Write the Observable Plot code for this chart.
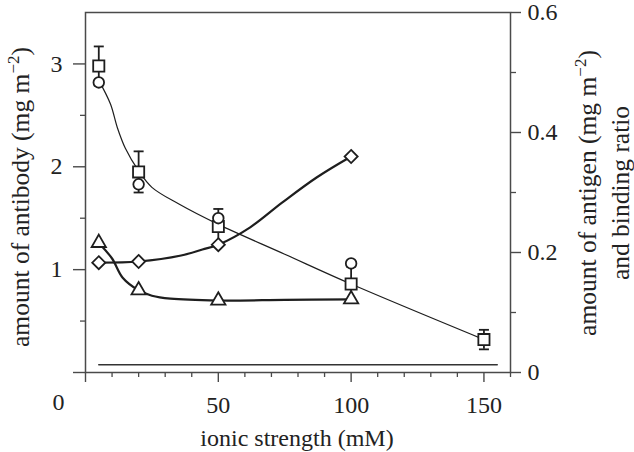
<!DOCTYPE html>
<html><head><meta charset="utf-8">
<script src="https://cdn.jsdelivr.net/npm/d3@7"></script>
<script src="https://cdn.jsdelivr.net/npm/@observablehq/plot@0.6"></script>
<style>
html,body{margin:0;padding:0;background:#fff;}
#chart svg{display:block;}
</style>
</head><body><div id="chart"></div>
<script>
// ---- data ----
const squareX = [5, 20, 50, 100, 150];
const squareY = [2.98, 1.95, 1.42, 0.86, 0.32];          // antibody, left axis
const squareErr = [0.19, 0.20, 0.17, 0.17, 0.095];
const circleX = [5, 20, 50, 100];
const circleY = [2.82, 1.83, 1.50, 1.06];                // antibody, left axis
const triangleX = [5, 20, 50, 100];
const triangleY = [0.216, 0.137, 0.120, 0.122];          // right axis
const diamondX = [5, 20, 50, 100];
const diamondY = [0.183, 0.185, 0.213, 0.360];           // right axis
const fitAbX = [5, 9.4, 12, 15, 20, 25, 35, 50, 75, 100, 150];
const fitAbY = [2.84, 2.61, 2.38, 2.18, 1.96, 1.80, 1.64, 1.44, 1.15, 0.86, 0.32];
const fitTriX = [5, 10, 14, 20, 25, 32, 50, 75, 100];
const fitTriY = [0.216, 0.19, 0.158, 0.137, 0.128, 0.123, 0.120, 0.121, 0.122];
const fitDiaX = [5, 20, 36, 44, 50, 62, 74, 87, 100];
const fitDiaY = [0.183, 0.185, 0.195, 0.205, 0.213, 0.242, 0.283, 0.325, 0.360];
const baseX = [5, 155];
const baseY = [0.013, 0.013];                            // right axis
const xMajor = [0, 50, 100, 150];
const xMinor = [10, 20, 30, 40, 60, 70, 80, 90, 110, 120, 130, 140, 160];
const yLeftMajor = [0, 1, 2, 3];
const yLeftMinor = [0.5, 1.5, 2.5];
const yRightMajor = [0, 0.2, 0.4, 0.6];
const yRightMinor = [0.1, 0.3, 0.5];

const LEFT_MAX = 3.5, RIGHT_MAX = 0.6;
const K = LEFT_MAX / RIGHT_MAX;
const pts = (xs, ys, f = 1) => xs.map((x, i) => ({x, y: ys[i] * f}));
const fmtRight = v => v === 0 ? "0" : v.toFixed(1);

const sq = squareX.map((x, i) => ({x, y: squareY[i], e: squareErr[i]}));
const caps = sq.flatMap(d => [{x: d.x, y: d.y + d.e}, {x: d.x, y: d.y - d.e}]);
const hline = {draw(ctx, size) { const w = Math.sqrt(size / Math.PI); ctx.moveTo(-w, 0); ctx.lineTo(w, 0); }};
const ink = "#1e1e1e";
const axisInk = "#4a4a4a";

const svg = Plot.plot({
  width: 634, height: 452,
  marginLeft: 85, marginRight: 124, marginTop: 12, marginBottom: 80,
  style: {fontFamily: "'Liberation Serif', 'Times New Roman', serif", fontSize: "24px", color: "#222", background: "#fff"},
  x: {domain: [0, 160]},
  y: {domain: [0, LEFT_MAX]},
  marks: [
    Plot.frame({stroke: axisInk, strokeWidth: 1.5}),
    Plot.axisX({ticks: xMajor, tickSize: 10, tickPadding: 13, strokeWidth: 1.4, stroke: axisInk, tickFormat: d => d === 0 ? "" : String(d), label: null}),
    Plot.axisX({ticks: xMinor, tickSize: 5, strokeWidth: 1.3, stroke: axisInk, tickFormat: () => "", label: null}),
    Plot.axisY({ticks: yLeftMajor, tickSize: 12, tickPadding: 11, strokeWidth: 1.4, stroke: axisInk, tickFormat: d => d === 0 ? "" : String(d), label: null}),
    Plot.axisY({ticks: yLeftMinor, tickSize: 5, strokeWidth: 1.3, stroke: axisInk, tickFormat: () => "", label: null}),
    Plot.axisY({anchor: "right", ticks: yRightMajor.map(v => v * K), tickSize: 10, strokeWidth: 1.4, stroke: axisInk, tickFormat: () => "", label: null}),
    Plot.axisY({anchor: "right", ticks: yRightMinor.map(v => v * K), tickSize: 5, strokeWidth: 1.3, stroke: axisInk, tickFormat: () => "", label: null}),
    Plot.text(yRightMajor, {y: d => d * K, frameAnchor: "right", textAnchor: "start", dx: 17, text: fmtRight, fill: "#222"}),
    Plot.text([0], {x: d => d, y: () => 0, text: () => "0", dx: -27, dy: 30, fill: "#222"}),
    Plot.line(pts(baseX, baseY, K), {x: "x", y: "y", stroke: "#333", strokeWidth: 1.5}),
    Plot.line(pts(fitAbX, fitAbY), {x: "x", y: "y", curve: "catmull-rom", stroke: ink, strokeWidth: 1.2}),
    Plot.line(pts(fitTriX, fitTriY, K), {x: "x", y: "y", curve: "catmull-rom", stroke: ink, strokeWidth: 2.2}),
    Plot.line(pts(fitDiaX, fitDiaY, K), {x: "x", y: "y", curve: "catmull-rom", stroke: ink, strokeWidth: 2.2}),
    Plot.ruleX(sq, {x: "x", y1: d => d.y - d.e, y2: d => d.y + d.e, stroke: ink, strokeWidth: 1.8}),
    Plot.dot(caps, {x: "x", y: "y", symbol: hline, r: 5, stroke: ink, strokeWidth: 1.8}),
    Plot.dot(sq, {x: "x", y: "y", symbol: "square", r: 6.3, fill: "#fff", stroke: ink, strokeWidth: 1.8}),
    Plot.dot(pts(circleX, circleY), {x: "x", y: "y", symbol: "circle", r: 5.3, fill: "#fff", stroke: ink, strokeWidth: 1.8}),
    Plot.dot(pts(triangleX, triangleY, K), {x: "x", y: "y", symbol: "triangle", r: 5.3, fill: "#fff", stroke: ink, strokeWidth: 1.8}),
    Plot.dot(pts(diamondX, diamondY, K), {x: "x", y: "y", symbol: "diamond2", r: 5.9, fill: "#fff", stroke: ink, strokeWidth: 1.8})
  ]
});

// axis titles (real text with superscripts)
const s = d3.select(svg);
function title(x, y, parts) {
  const t = s.append("text")
    .attr("transform", `translate(${x},${y}) rotate(-90)`)
    .attr("text-anchor", "middle").attr("fill", "#222")
    .style("font-size", "25.5px");
  parts.forEach(p => {
    const sp = t.append("tspan").text(p.t);
    if (p.sup) sp.style("font-size", "17px").attr("dy", -10);
    if (p.back) sp.attr("dy", 10);
  });
}
title(29, 197, [{t: "amount of antibody (mg m"}, {t: "−2", sup: true}, {t: ")", back: true}]);
title(596, 193, [{t: "amount of antigen (mg m"}, {t: "−2", sup: true}, {t: ")", back: true}]);
title(629, 193, [{t: "and binding ratio"}]);
s.append("text").attr("x", 297).attr("y", 446).attr("text-anchor", "middle").attr("fill", "#222")
  .style("font-size", "24px").text("ionic strength (mM)");

document.getElementById("chart").appendChild(svg);
</script>
</body></html>
